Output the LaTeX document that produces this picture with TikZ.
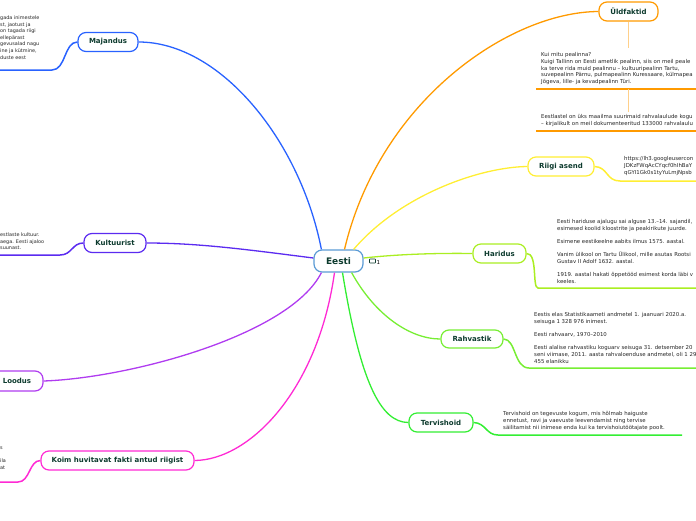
\documentclass[tikz,border=0pt]{standalone}
\usepackage{fontspec}
\setmainfont{DejaVu Sans}
\definecolor{ctext}{HTML}{0D3B2E}
\definecolor{cmain}{HTML}{5B9BD5}
\definecolor{cmaj}{HTML}{2962FF}
\definecolor{ckul}{HTML}{5B2BF0}
\definecolor{cloo}{HTML}{B03CF0}
\definecolor{ckoim}{HTML}{FF2AD4}
\definecolor{culd}{HTML}{FF9A00}
\definecolor{culdl}{HTML}{FFD08A}
\definecolor{crii}{HTML}{FFEE33}
\definecolor{char}{HTML}{AAEE22}
\definecolor{crah}{HTML}{77EE33}
\definecolor{cter}{HTML}{33EE33}
\tikzset{
  topic/.style={draw, rounded corners=8pt, line width=1.2pt, fill=white, text=ctext,
    font=\fontsize{7}{8}\selectfont\bfseries, minimum height=19pt, inner sep=0pt},
  note/.style={anchor=north west, inner sep=0pt, align=left, text=black!85,
    font=\fontsize{5.4}{6.6}\selectfont},
  leftnote/.style={note, font=\fontsize{4.9}{6.6}\selectfont},
  branch/.style={line width=1.3pt},
  uline/.style={line width=1.5pt}
}
\begin{document}
\begin{tikzpicture}[x=1pt,y=-1pt]
\useasboundingbox (0,0) rectangle (696,520);
% central
\node[topic, draw=cmain, minimum width=49pt, minimum height=22pt, font=\fontsize{9}{10}\selectfont\bfseries] (eesti) at (338.5,261) {Eesti};
\node[draw=ctext, line width=0.6pt, minimum width=6pt, minimum height=4pt, inner sep=0pt, rounded corners=0.5pt] (cicon) at (372.5,261) {};
\node[inner sep=0pt, font=\fontsize{5.5}{6}\selectfont, anchor=west] (cnum) at (376.5,262) {1};
% topics
\node[topic, draw=cmaj, minimum width=60pt] (maj) at (108,42) {Majandus};
\node[topic, draw=ckul, minimum width=62pt] (kul) at (115,243) {Kultuurist};
\node[topic, draw=cloo, minimum width=52pt, minimum height=20pt] (loo) at (17,381) {Loodus};
\node[topic, draw=ckoim, minimum width=153pt] (koim) at (117.5,460.5) {Koim huvitavat fakti antud riigist};
\node[topic, draw=culd, minimum width=59pt] (uld) at (628.5,11.5) {Üldfaktid};
\node[topic, draw=crii, minimum width=66pt] (rii) at (561,166.5) {Riigi asend};
\node[topic, draw=char, minimum width=53pt] (har) at (499.5,253.5) {Haridus};
\node[topic, draw=crah, minimum width=62pt, minimum height=18pt] (rah) at (472,339) {Rahvastik};
\node[topic, draw=cter, minimum width=64pt] (ter) at (441,422.5) {Tervishoid};
% branches from centre
\draw[branch, cmaj] (eesti.north west) ++(8,0) .. controls (300,140) and (220,42) .. (maj.east);
\draw[branch, ckul] (eesti.west) ++(0,-3) .. controls (250,250) and (200,243) .. (kul.east);
\draw[branch, cloo] (eesti.south west) ++(8,0) .. controls (290,335) and (130,378) .. (loo.east);
\draw[branch, ckoim] (eesti.south) ++(-4,0) .. controls (318,390) and (250,460) .. (koim.east);
\draw[branch, culd] (eesti.north) ++(6,0) .. controls (380,100) and (510,12) .. (uld.west);
\draw[branch, crii] (eesti.north east) ++(-10,0) .. controls (400,195) and (480,167) .. (rii.west);
\draw[branch, char] (eesti.east) ++(0,-3) .. controls (400,254) and (440,253) .. (har.west);
\draw[branch, crah] (eesti.south east) ++(-12,0) .. controls (375,315) and (410,339) .. (rah.west);
\draw[branch, cter] (eesti.south) ++(4,0) .. controls (360,380) and (380,422.5) .. (ter.west);
% Majandus note
\node[leftnote] (majtxt) at (0,15.5) {gada inimestele\\st, jaotust ja\\ on tagada riigi\\ellepärast\\gevusalad nagu\\ine ja kütmine,\\duste eest};
\coordinate (majA) at (0,70);
\coordinate (majB) at (52,70);
\draw[uline, cmaj] (majA) -- (majB) .. controls (66,70) and (64,42) .. (maj.west);
% Kultuurist note
\node[leftnote] (kultxt) at (0,232.5) {estlaste kultuur.\\aega. Eesti ajaloo\\suunast.};
\coordinate (kulA) at (0,255);
\coordinate (kulB) at (60,255);
\draw[uline, ckul] (kulA) -- (kulB) .. controls (72,255) and (72,243) .. (kul.west);
% Koim note
\node[leftnote] (koimtxt) at (0,446.5) {s\\\\ila\\at};
\coordinate (koimA) at (0,482);
\coordinate (koimB) at (18,482);
\draw[uline, ckoim] (koimA) -- (koimB) .. controls (30,482) and (29,460.5) .. (koim.west);
% Uldfaktid notes
\coordinate (uldA) at (628.5,48);
\draw[line width=1.2pt, culdl] (uld.south) -- (uldA);
\node[note] (uldtxt1) at (541,52.5) {Kui mitu pealinna?\\Kuigi Tallinn on Eesti ametlik pealinn, siis on meil peale\\ka terve rida muid pealinnu -- kultuuripealinn Tartu,\\suvepealinn Pärnu, pulmapealinn Kuressaare, külmapea\\Jõgeva, lille- ja kevadpealinn Türi.};
\coordinate (uldB) at (536,89);
\coordinate (uldC) at (696,89);
\draw[uline, culd] (uldB) -- (uldC);
\coordinate (uldD) at (628.5,89);
\coordinate (uldE) at (628.5,112);
\draw[line width=1.2pt, culdl] (uldD) -- (uldE);
\node[note] (uldtxt2) at (541,114.5) {Eestlastel on üks maailma suurimaid rahvalaulude kogu\\-- kirjalikult on meil dokumenteeritud 133000 rahvalaulu};
\coordinate (uldF) at (536,131);
\coordinate (uldG) at (696,131);
\draw[uline, culd] (uldF) -- (uldG);
% Riigi asend note
\node[note] (riitxt) at (624,156.5) {https://lh3.googleusercon\\JDKzFWqAcCYqcf0hIhBaY\\qGYI1Gk0s1tyYuLmjNpsb};
\coordinate (riiA) at (620,181);
\coordinate (riiB) at (696,181);
\draw[uline, crii] (rii.east) .. controls (608,167) and (606,181) .. (riiA) -- (riiB);
% Haridus note
\node[note] (hartxt) at (557,219.5) {Eesti hariduse ajalugu sai alguse 13.--14. sajandil,\\esimesed koolid kloostrite ja peakirikute juurde.\\\\Esimene eestikeelne aabits ilmus 1575. aastal.\\\\Vanim ülikool on Tartu Ülikool, mille asutas Rootsi\\Gustav II Adolf 1632. aastal.\\\\1919. aastal hakati õppetööd esimest korda läbi v\\keeles.};
\coordinate (harA) at (538,288);
\coordinate (harB) at (696,288);
\draw[uline, char] (har.east) .. controls (538,253) and (532,288) .. (harA) -- (harB);
% Rahvastik note
\node[note] (rahtxt) at (534,312.5) {Eestis elas Statistikaameti andmetel 1. jaanuari 2020.a.\\seisuga 1 328 976 inimest.\\\\Eesti rahvaarv, 1970--2010\\\\Eesti alalise rahvastiku koguarv seisuga 31. detsember 20\\seni viimase, 2011. aasta rahvaloenduse andmetel, oli 1 29\\455 elanikku};
\coordinate (rahA) at (529,368);
\coordinate (rahB) at (696,368);
\draw[uline, crah] (rah.east) .. controls (516,339) and (514,368) .. (rahA) -- (rahB);
% Tervishoid note
\node[note] (tertxt) at (503,411.5) {Tervishoid on tegevuste kogum, mis hõlmab haiguste\\ennetust, ravi ja vaevuste leevendamist ning tervise\\säilitamist nii inimese enda kui ka tervishoiutöötajate poolt.};
\coordinate (terA) at (498,435);
\coordinate (terB) at (682,435);
\draw[uline, cter] (ter.east) .. controls (486,423) and (486,435) .. (terA) -- (terB);
\end{tikzpicture}
\end{document}
